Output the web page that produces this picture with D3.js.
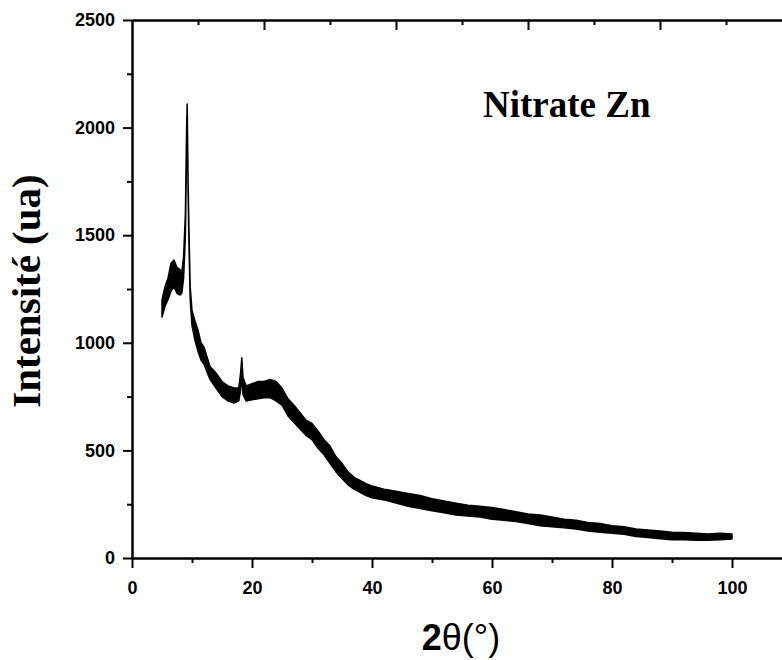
<!DOCTYPE html>
<html>
<head>
<meta charset="utf-8">
<script src="https://cdn.jsdelivr.net/npm/d3@7"></script>
<style>
  body { margin: 0; background: #fff; }
  svg { display: block; }
</style>
</head>
<body>
<script>
// XRD pattern: 2theta and the lower/upper edge of the noisy trace
var twoTheta = [5.0, 5.5, 6.0, 6.5, 7.0, 7.5, 8.0, 8.3, 8.6, 8.9, 9.1, 9.2, 9.35, 9.5, 9.7,
  10.0, 10.5, 11.0, 11.5, 12.0, 13.0, 14.0, 15.0, 16.0, 17.0, 17.8, 18.1, 18.3, 18.5, 19.0,
  20, 21, 22, 23, 24, 25, 26, 27, 28, 29, 30, 31, 32, 33, 34, 35, 36, 37, 38, 39, 40,
  42, 44, 46, 48, 50, 52, 54, 56, 58, 60, 62, 64, 66, 68, 70, 72, 74, 76, 78, 80,
  82, 84, 86, 88, 90, 92, 94, 96, 98, 100];
var lowEdge = [1120, 1170, 1200, 1240, 1260, 1230, 1222, 1230, 1300, 1500, 1900, 2090, 1700, 1450, 1200,
  1080, 1010, 960, 920, 900, 830, 790, 750, 730, 720, 730, 780, 850, 760, 730,
  735, 740, 745, 745, 730, 710, 660, 630, 600, 570, 550, 510, 480, 440, 400, 370, 340, 320, 305, 290, 280,
  270, 255, 240, 230, 220, 210, 200, 195, 190, 180, 175, 170, 160, 150, 145, 140, 135, 125, 120, 115,
  110, 100, 95, 90, 85, 85, 82, 82, 85, 88];
var highEdge = [1200, 1260, 1300, 1370, 1385, 1350, 1340, 1330, 1400, 1600, 2000, 2110, 1750, 1520, 1260,
  1150, 1100, 1060, 1000, 980, 890, 860, 820, 800, 790, 790, 860, 930, 840, 800,
  810, 820, 820, 830, 820, 790, 740, 710, 675, 640, 625, 590, 550, 520, 470, 440, 400, 375, 360, 345, 335,
  320, 310, 300, 290, 275, 265, 255, 245, 240, 235, 225, 215, 205, 200, 190, 180, 175, 165, 160, 150,
  145, 135, 130, 125, 120, 118, 115, 112, 115, 112];

var xTicksMajor = [0, 20, 40, 60, 80, 100];
var xTicksMinor = [10, 30, 50, 70, 90, 110];
var yTicksMajor = [0, 500, 1000, 1500, 2000, 2500];
var yTicksMinor = [250, 750, 1250, 1750, 2250];

var data = twoTheta.map(function(t, i) { return {t: t, lo: lowEdge[i], hi: highEdge[i]}; });

var width = 782, height = 660;
var plotLeft = 132, plotTop = 20, plotRight = 792, plotBottom = 558;

var svg = d3.select('body').append('svg')
  .attr('width', width)
  .attr('height', height);

var x = d3.scaleLinear().domain([0, 110]).range([plotLeft, plotRight]);
var xTop = d3.scaleLinear().domain([0, 100]).range([plotLeft, plotRight]);
var y = d3.scaleLinear().domain([0, 2500]).range([plotBottom, plotTop]);

// trace
var band = d3.area()
  .x(function(d) { return x(d.t); })
  .y0(function(d) { return y(d.lo); })
  .y1(function(d) { return y(d.hi); });

svg.append('path')
  .datum(data)
  .attr('d', band)
  .attr('fill', '#000')
  .attr('stroke', '#000')
  .attr('stroke-width', 1.5)
  .attr('stroke-linejoin', 'round');

// axes
function styleAxis(g) {
  g.selectAll('.domain').attr('stroke', '#000').attr('stroke-width', 2);
  g.selectAll('.tick line').attr('stroke', '#000').attr('stroke-width', 2);
  g.selectAll('text').attr('fill', '#000')
    .style('font-family', '"Liberation Sans", Arial, sans-serif')
    .style('font-weight', 'bold')
    .style('font-size', '18px');
}

svg.append('g')
  .attr('transform', 'translate(0,' + plotBottom + ')')
  .call(d3.axisBottom(x).tickValues(xTicksMinor).tickSize(5).tickFormat('').tickSizeOuter(0))
  .call(styleAxis);
svg.append('g')
  .attr('transform', 'translate(0,' + plotBottom + ')')
  .call(d3.axisBottom(x).tickValues(xTicksMajor).tickSize(10).tickPadding(13).tickSizeOuter(0))
  .call(styleAxis);

svg.append('g')
  .attr('transform', 'translate(' + plotLeft + ',0)')
  .call(d3.axisLeft(y).tickValues(yTicksMinor).tickSize(5).tickFormat('').tickSizeOuter(0))
  .call(styleAxis);
svg.append('g')
  .attr('transform', 'translate(' + plotLeft + ',0)')
  .call(d3.axisLeft(y).tickValues(yTicksMajor).tickSize(9).tickPadding(8)
    .tickFormat(d3.format('d')).tickSizeOuter(0))
  .call(styleAxis);

// top axis, ticks inward, no labels
svg.append('g')
  .attr('transform', 'translate(0,' + plotTop + ')')
  .call(d3.axisBottom(xTop).tickValues([10, 30, 50, 70, 90]).tickSize(5).tickFormat('').tickSizeOuter(0))
  .call(styleAxis);
svg.append('g')
  .attr('transform', 'translate(0,' + plotTop + ')')
  .call(d3.axisBottom(xTop).tickValues([20, 40, 60, 80]).tickSize(10).tickFormat('').tickSizeOuter(0))
  .call(styleAxis);

// labels
svg.append('text')
  .attr('x', 483)
  .attr('y', 117)
  .style('font-family', '"Liberation Serif", "Times New Roman", serif')
  .style('font-weight', 'bold')
  .style('font-size', '37px')
  .text('Nitrate Zn');

svg.append('text')
  .attr('transform', 'translate(40,291) rotate(-90)')
  .attr('text-anchor', 'middle')
  .style('font-family', '"Liberation Serif", "Times New Roman", serif')
  .style('font-weight', 'bold')
  .style('font-size', '41px')
  .text('Intensité (ua)');

var xl = svg.append('text')
  .attr('x', 461)
  .attr('y', 650)
  .attr('text-anchor', 'middle')
  .style('font-family', '"Liberation Sans", Arial, sans-serif')
  .style('font-size', '36px');
xl.append('tspan').style('font-weight', 'bold').text('2');
xl.append('tspan').text('θ(°)');
</script>
</body>
</html>
